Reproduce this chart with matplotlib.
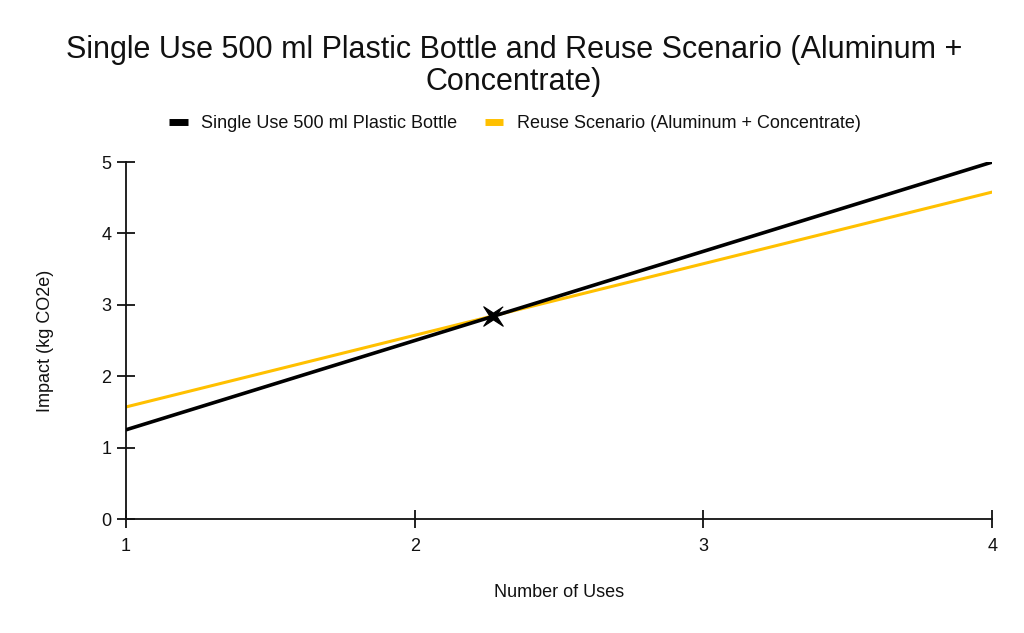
import numpy as np
import matplotlib.pyplot as plt
from matplotlib.lines import Line2D
from matplotlib.path import Path

plt.rcParams['font.family'] = ['Liberation Sans', 'DejaVu Sans']

# ---- data ----
uses = [1, 4]
single_use = [1.25, 5.0]
reuse = [1.57, 4.58]
cross_x = 2.27
cross_y = 2.84

black = '#000000'
yellow = '#FFC000'

# thin 4-point star turned 45 deg, like the crossing marker in the reference
ang = np.deg2rad(np.arange(45, 405, 45))
rad = np.tile([1.0, 0.25], 4)
star = Path(np.column_stack([rad * np.cos(ang), rad * np.sin(ang)]))

fig = plt.figure(figsize=(10.24, 6.33), dpi=100)
ax = fig.add_axes([0.123, 0.180, 0.846, 0.564])

ax.plot(uses, reuse, color=yellow, linewidth=2.2, solid_capstyle='butt', zorder=2)
ax.plot(uses, single_use, color=black, linewidth=2.6, solid_capstyle='butt', zorder=3)
ax.plot([cross_x], [cross_y], marker=star, markersize=14, color=black,
        markeredgewidth=0.8, linestyle='none', zorder=4)

ax.set_xlim(1, 4)
ax.set_ylim(0, 5)
ax.set_xticks([1, 2, 3, 4])
ax.set_yticks([0, 1, 2, 3, 4, 5])

for side in ['top', 'right']:
    ax.spines[side].set_visible(False)
for side in ['left', 'bottom']:
    ax.spines[side].set_linewidth(1.3)
    ax.spines[side].set_color('#111111')
ax.tick_params(direction='inout', length=13, width=1.3, labelsize=13, pad=4,
               color='#111111', labelcolor='#111111')
ax.tick_params(axis='x', pad=7)

ax.set_xlabel('Number of Uses', fontsize=13, labelpad=21, color='#111111')
ax.set_ylabel('Impact (kg CO2e)', fontsize=13, labelpad=34, color='#111111')

fig.text(0.502, 0.896, 'Single Use 500 ml Plastic Bottle and Reuse Scenario (Aluminum +\nConcentrate)',
         ha='center', va='center', fontsize=22, linespacing=1.1, color='#111111')

handles = [Line2D([], [], color=black, linewidth=5, solid_capstyle='butt'),
           Line2D([], [], color=yellow, linewidth=5, solid_capstyle='butt')]
fig.legend(handles, ['Single Use 500 ml Plastic Bottle', 'Reuse Scenario (Aluminum + Concentrate)'],
           loc='center', bbox_to_anchor=(0.503, 0.805), ncol=2, frameon=False,
           fontsize=13, handlelength=1.0, handletextpad=0.75, columnspacing=1.55,
           labelcolor='#111111')

fig.savefig('out.png', dpi=100)
